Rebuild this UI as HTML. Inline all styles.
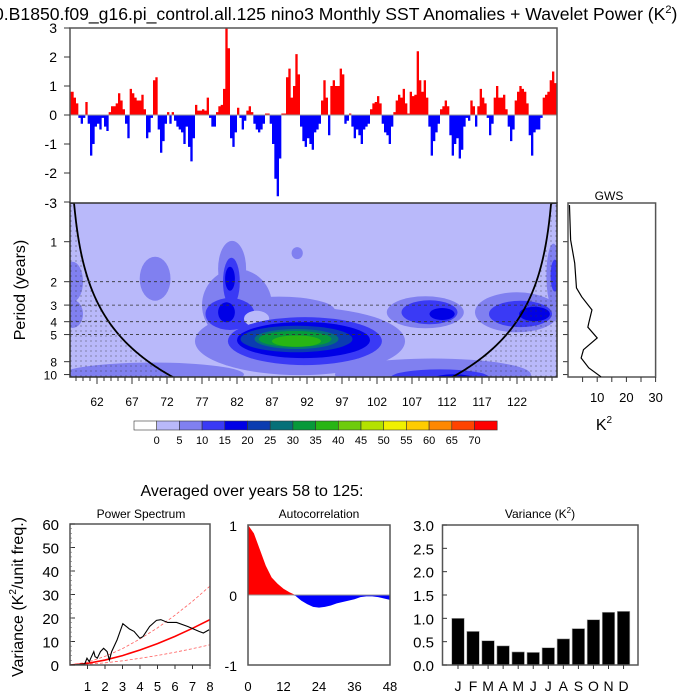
<!DOCTYPE html>
<html><head><meta charset="utf-8">
<style>
html,body{margin:0;padding:0;background:#fff;}
svg{display:block;font-family:"Liberation Sans",sans-serif;}
</style></head>
<body>
<svg id="c" width="700" height="700" viewBox="0 0 700 700" xmlns="http://www.w3.org/2000/svg">
<defs>
<clipPath id="wclip"><rect x="70" y="203" width="487" height="174"/></clipPath>
<clipPath id="tclip"><rect x="70" y="28" width="487" height="175"/></clipPath>
<clipPath id="pclip"><rect x="70" y="524" width="140" height="141"/></clipPath>
<pattern id="dots" width="5" height="5" patternUnits="userSpaceOnUse"><circle cx="1" cy="1" r="0.55" fill="#333"/></pattern>
</defs>
<text x="-6" y="20" font-size="17.6">0.B1850.f09_g16.pi_control.all.125 nino3 Monthly SST Anomalies + Wavelet Power (K<tspan font-size="11" dy="-7">2</tspan><tspan dy="7">)</tspan></text>
<g id="topPanel"></g>
<g id="wav"></g>
<g id="gws"></g>
<g id="cbar"></g>
<text x="252" y="496" font-size="16" text-anchor="middle">Averaged over years 58 to 125:</text>
<g id="ps"></g>
<g id="ac"></g>
<g id="vr"></g>
</svg>
<script>
// ---------- data ----------
const sstStartYear = 58;
const sstStep = 1/3;
const sstValues = [0.8,0.8,0.6,0.4,-0.1,-0.3,-0.1,0.45,-0.3,-1.4,-1.0,-0.4,-0.3,-0.5,-0.1,-0.4,-0.55,0.1,0.3,0.3,0.4,0.75,0.5,0.2,-0.3,-0.8,0.9,0.75,0.6,0.5,0.5,0.7,0.2,-0.8,-0.6,-0.1,1.2,1.3,-0.5,-1.3,-0.9,-0.3,0.1,-0.3,0.1,-0.2,-0.4,-0.5,-0.6,-1.0,-0.4,-1.1,-1.6,-0.8,0.35,0.15,0.15,0.2,0.15,0.6,-0.1,-0.4,-0.4,0.1,0.3,0.35,0.9,3.0,2.3,-0.8,-1.1,-0.6,0.25,-0.1,-0.5,-0.2,0.15,0.3,0.1,-0.3,-0.5,-0.6,-0.5,-0.3,0.05,0.05,-0.3,-1.0,-2.2,-2.8,-1.5,0.05,0.05,1.3,1.6,0.6,1.0,2.1,1.4,-0.4,-0.9,-1.1,-0.8,-1.0,-1.2,-0.6,
-0.5,-0.3,0.5,1.2,0.6,-0.7,1.0,1.2,1.0,1.0,1.6,1.4,-0.3,-0.2,0.05,-0.4,-0.8,-0.5,-0.7,-1.0,-0.5,-0.4,-0.3,0.2,0.4,0.45,0.65,0.4,-0.3,-0.6,-0.7,-1.0,-0.4,0.1,0.5,0.7,0.6,0.9,0.4,0.05,0.8,0.65,0.7,2.2,1.2,0.8,1.2,0.6,-0.4,-1.4,-0.9,-0.6,-0.3,0.2,0.3,0.5,0.3,-0.7,-1.4,-1.0,-0.8,-1.5,-1.2,-0.4,-0.1,-0.2,0.5,0.3,-0.4,0.3,0.9,0.6,0.4,-0.1,-0.7,-0.3,0.6,1.0,0.6,0.6,0.7,0.2,-0.4,-0.9,-0.5,0.5,0.8,1.0,0.9,0.8,0.4,-0.7,-1.4,-0.6,-0.5,-0.5,-0.1,0.6,0.7,0.8,1.2,1.5,1.1,-0.8,-2.2];
const sstTicks = [3,2,1,0,-1,-2,-3];
const periodTicks = [1,2,3,4,5,8,10];
const dashedPeriods = [2,3,4,5];
const yearTicks = [62,67,72,77,82,87,92,97,102,107,112,117,122];
const blobYear   = [70,110,58.5,58.5,70.3,82,81.3,88,91,81,81.2,80.5,81,84.8,91.7,91.5,90.5,90.5,90.3,90.5,90.6,108.9,109.5,111.3,122,122.5,124.5,127.2,127.4,111,113];
const blobPeriod = [10,10,2,3.5,1.9,3,1.6,3.3,5.6,3.5,2,3.4,1.9,3.8,5.6,5.5,5.4,5.4,5.4,5.6,1.22,3.4,3.4,3.5,3.4,3.5,3.5,1.8,1.8,10.5,10.8];
const blobW      = [13,14,1.5,1.5,2.2,5,2,8,15,3.5,1.2,1.2,0.7,1.8,11,9.5,8,6,5.2,3.5,0.8,5.5,4,1.8,6,4.5,2.2,1,0.6,7,3];
const blobH      = [0.3,0.4,0.5,0.35,0.55,0.9,0.7,0.35,0.85,0.4,0.6,0.25,0.3,0.2,0.6,0.45,0.33,0.25,0.2,0.14,0.15,0.4,0.3,0.15,0.5,0.33,0.18,0.8,0.4,0.2,0.12];
const blobLevel  = [2,2,2,2,2,2,2,2,2,3,3,4,4,1,3,4,5,6,7,8,2,2,3,4,2,3,4,2,3,3,4];
const levelLabels = [0,5,10,15,20,25,30,35,40,45,50,55,60,65,70];
const levelColors = ["#ffffff","#b9b9fa","#8080f0","#3a3af5","#0000e6","#0b3cb0","#067078","#07993a","#28b514","#6ecc0c","#b4e200","#f0f000","#ffcc00","#ff8800","#ff4400","#ff0000"];
const gwsPeriods = [0.53,0.97,1.45,2.23,2.6,3.26,4.1,4.4,5.3,6.5,7.5,8.9,10.4];
const gwsValues  = [0.5,0.9,2.3,2.9,4.7,8.2,7.1,6.8,10.0,5.3,4.5,7.1,11.3];
const gwsTicks = [10,20,30];
const psFreq  = [0,0.84,0.97,1.10,1.23,1.36,1.43,1.56,1.74,1.92,2.12,2.25,2.38,2.69,3.02,3.40,3.66,3.99,4.17,4.55,4.94,5.19,5.58,6.09,6.73,7.37,7.62,7.95];
const psPower = [0,0.4,2.9,1.4,3.6,5.7,3.6,2.9,5.7,7.1,5.7,2.1,5.7,10.7,17.6,15.3,14.3,11.4,12.1,16.4,19,19.3,18.1,18.1,16.4,14.3,13.6,15];
const redFreq = [0,1,2,3,4,5,6,7,8];
const redMean = [0,0.69,2.1,4.0,6.4,9.1,12.2,15.6,19.3];
const redUpper = [0,1.2,3.65,6.96,11.1,15.8,21.2,27.1,33.6];
const redLower = [0,0.31,0.93,1.78,2.85,4.05,5.43,6.94,8.6];
const psXTicks = [1,2,3,4,5,6,7,8];
const psYTicks = [0,10,20,30,40,50,60];
const acLags = [0,2,4,6,8,10,12,14,16,18,20,22,24,26,28,30,32,34,36,38,40,42,44,46,48];
const acValues = [1,0.88,0.65,0.42,0.25,0.16,0.09,0.04,-0.01,-0.08,-0.13,-0.17,-0.18,-0.17,-0.15,-0.12,-0.1,-0.08,-0.06,-0.03,-0.02,-0.02,-0.03,-0.05,-0.07];
const acXTicks = [0,12,24,36,48];
const acYTicks = [1,0,-1];
const months = ["J","F","M","A","M","J","J","A","S","O","N","D"];
const monthVar = [1.0,0.72,0.52,0.41,0.28,0.27,0.37,0.56,0.78,0.97,1.13,1.15];
const varYTicks = ["3.0","2.5","2.0","1.5","1.0","0.5","0.0"];

// ---------- helpers ----------
const NS = "http://www.w3.org/2000/svg";
function mk(tag, attrs, parent){ const el=document.createElementNS(NS,tag); for(const k in attrs) el.setAttribute(k,attrs[k]); parent.appendChild(el); return el; }
function txt(parent,x,y,s,size,anchor){ const t=mk("text",{x:x,y:y,"font-size":size,"text-anchor":anchor||"middle"},parent); t.textContent=s; return t; }
const xYear = y => 69 + (y-58)*7;
const ySst = v => 115 - v*29;
const yPer = p => 241.7 + 57.7*Math.log(p);

// ---------- top panel ----------
const topG = document.getElementById("topPanel");
let posD="M"+xYear(sstStartYear)+" 115", negD="M"+xYear(sstStartYear)+" 115";
sstValues.forEach((v,i)=>{
  const x0=xYear(sstStartYear+i*sstStep), x1=xYear(sstStartYear+(i+1)*sstStep);
  const pv=Math.max(v,0), nv=Math.min(v,0);
  posD+=" L"+x0+" "+ySst(pv)+" L"+x1+" "+ySst(pv);
  negD+=" L"+x0+" "+ySst(nv)+" L"+x1+" "+ySst(nv);
});
const endX = xYear(sstStartYear+sstValues.length*sstStep);
posD+=" L"+endX+" 115 Z"; negD+=" L"+endX+" 115 Z";
const gT = mk("g",{"clip-path":"url(#tclip)"},topG);
let e = mk("path",{d:posD,fill:"#ff0000",stroke:"none"},gT);


e = mk("path",{d:negD,fill:"#0000ff",stroke:"none"},gT);


mk("line",{x1:70,x2:557,y1:115,y2:115,stroke:"#999","stroke-width":1},topG);
mk("path",{d:"M70 203 V28 H557 V203",fill:"none",stroke:"#555","stroke-width":1.5},topG);
sstTicks.forEach(v=>{
  mk("line",{x1:64,x2:70,y1:ySst(v),y2:ySst(v),stroke:"#333"},topG);
  if(v===-3) return;
  const t=txt(topG,57,ySst(v)+5,String(v),14,"end");
  
  
});

// ---------- wavelet panel ----------
const wav = document.getElementById("wav");
const gW = mk("g",{"clip-path":"url(#wclip)"},wav);
mk("rect",{x:70,y:203,width:487,height:174,fill:levelColors[1]},gW);
blobYear.forEach((yr,i)=>{
  const el=mk("ellipse",{cx:xYear(yr),cy:yPer(blobPeriod[i]),rx:blobW[i]*7,ry:blobH[i]*40,fill:levelColors[blobLevel[i]]},gW);
  
  
});
const coi = yr => Math.min(yr-58, 127.6-yr)/1.42;
let lp="M70 203", rp="M557 203", lc="", rc="";
for(let x=70;x<=313;x+=1){ const yr=58+(x-69)/7; const p=Math.max(coi(yr),0.3); const y=Math.min(Math.max(yPer(p),203),377); lp+=" L"+x+" "+y; lc+=(lc?" L":"M")+x+" "+y; if(y>=377) break; }
lp+=" L70 377 Z";
for(let x=557;x>=313;x-=1){ const yr=58+(x-69)/7; const p=Math.max(coi(yr),0.3); const y=Math.min(Math.max(yPer(p),203),377); rp+=" L"+x+" "+y; rc+=(rc?" L":"M")+x+" "+y; if(y>=377) break; }
rp+=" L557 377 Z";
mk("path",{d:lp,fill:"url(#dots)"},gW);
mk("path",{d:rp,fill:"url(#dots)"},gW);
e=mk("path",{d:lc,fill:"none",stroke:"#000","stroke-width":1.8},gW);


e=mk("path",{d:rc,fill:"none",stroke:"#000","stroke-width":1.8},gW);


dashedPeriods.forEach(p=>{
  mk("line",{x1:70,x2:557,y1:yPer(p),y2:yPer(p),stroke:"#333","stroke-dasharray":"3,3","stroke-width":0.8},gW);
});
mk("rect",{x:70,y:203,width:487,height:174,fill:"none",stroke:"#333","stroke-width":1.5},wav);
txt(wav,57,208,"-3",14,"end");
periodTicks.forEach(p=>{
  mk("line",{x1:64,x2:70,y1:yPer(p),y2:yPer(p),stroke:"#333"},wav);
  mk("line",{x1:563,x2:568,y1:yPer(p),y2:yPer(p),stroke:"#333"},wav);
  const t=txt(wav,57,yPer(p)+5,String(p),12,"end");
  
  
});
for(let yr=59;yr<=127;yr++){ mk("line",{x1:xYear(yr),x2:xYear(yr),y1:377,y2:yearTicks.includes(yr)?384:381,stroke:"#333"},wav); }
yearTicks.forEach(yr=>{
  const t=txt(wav,xYear(yr),406,String(yr),12);
  
  
});
e=txt(wav,0,0,"Period (years)",16);
e.setAttribute("transform","translate(25 290) rotate(-90)");



// ---------- GWS ----------
const gws = document.getElementById("gws");
const xG = v => 568 + v*2.92;
mk("rect",{x:568,y:203,width:87.6,height:174,fill:"#fff",stroke:"#555","stroke-width":1.5},gws);
let gd="";
gwsPeriods.forEach((p,i)=>{ gd+=(i?" L":"M")+xG(gwsValues[i])+" "+yPer(p); });
e=mk("path",{d:gd,fill:"none",stroke:"#000","stroke-width":1.2},gws);


for(let v=5;v<=30;v+=5) mk("line",{x1:xG(v),x2:xG(v),y1:377,y2:382,stroke:"#333"},gws);
gwsTicks.forEach(v=>{
  const t=txt(gws,xG(v),402,String(v),13);
  
  
});
txt(gws,609,200,"GWS",12);
e=txt(gws,604,430,"K",16); mk("tspan",{"font-size":10,dy:-7},e).textContent="2";



// ---------- colorbar ----------
const cb = document.getElementById("cbar");
const cw = 22.7;
levelColors.forEach((c,i)=>{
  const r=mk("rect",{x:134+i*cw,y:421,width:cw,height:9,fill:c,stroke:"#333","stroke-width":0.6},cb);
  
  
});
levelLabels.forEach((v,i)=>{
  const t=txt(cb,134+(i+1)*cw,444,String(v),11);
  
  
});

// ---------- power spectrum ----------
const ps = document.getElementById("ps");
const xP = f => 70 + f*17.5, yP = v => 665 - v*2.35;
const gP = mk("g",{"clip-path":"url(#pclip)"},ps);
function linePath(xs,ys,fx,fy){ return xs.map((x,i)=>(i?"L":"M")+fx(x)+" "+fy(ys[i])).join(" "); }
e=mk("path",{d:linePath(redFreq,redUpper,xP,yP),fill:"none",stroke:"#ff6060","stroke-width":0.8,"stroke-dasharray":"3,2"},gP);


e=mk("path",{d:linePath(redFreq,redLower,xP,yP),fill:"none",stroke:"#ff6060","stroke-width":0.8,"stroke-dasharray":"3,2"},gP);


e=mk("path",{d:linePath(redFreq,redMean,xP,yP),fill:"none",stroke:"#ff0000","stroke-width":1.6},gP);


e=mk("path",{d:linePath(psFreq,psPower,xP,yP),fill:"none",stroke:"#000","stroke-width":1.1},gP);


mk("rect",{x:70,y:524,width:140,height:141,fill:"none",stroke:"#555","stroke-width":1.5},ps);
psYTicks.forEach(v=>{
  mk("line",{x1:70,x2:75,y1:yP(v),y2:yP(v),stroke:"#333"},ps);
  const t=txt(ps,59,yP(v)+6,String(v),15,"end");
  
  
});
for(let v=2;v<60;v+=2) mk("line",{x1:70,x2:72,y1:yP(v),y2:yP(v),stroke:"#666","stroke-width":0.6},ps);
psXTicks.forEach(f=>{
  mk("line",{x1:xP(f),x2:xP(f),y1:665,y2:669,stroke:"#333"},ps);
  const t=txt(ps,xP(f),691,String(f),13);
  
  
});
txt(ps,141,518,"Power Spectrum",12);
e=txt(ps,0,0,"Variance (K",16); mk("tspan",{"font-size":10,dy:-7},e).textContent="2"; mk("tspan",{dy:7},e).textContent="/unit freq.)";
e.setAttribute("transform","translate(23 597) rotate(-90)");



// ---------- autocorrelation ----------
const ac = document.getElementById("ac");
const xA = l => 248 + l*(142/48), yA = v => 595 - v*70;
let apos="M"+xA(acLags[0])+" 595", aneg="M"+xA(acLags[0])+" 595";
acLags.forEach((l,i)=>{ apos+=" L"+xA(l)+" "+yA(Math.max(acValues[i],0)); aneg+=" L"+xA(l)+" "+yA(Math.min(acValues[i],0)); });
apos+=" L"+xA(acLags[acLags.length-1])+" 595 Z"; aneg+=" L"+xA(acLags[acLags.length-1])+" 595 Z";
e=mk("path",{d:apos,fill:"#ff0000"},ac);


e=mk("path",{d:aneg,fill:"#0000ff"},ac);


mk("line",{x1:248,x2:390,y1:595,y2:595,stroke:"#999"},ac);
mk("rect",{x:248,y:525,width:142,height:140,fill:"none",stroke:"#555","stroke-width":1.5},ac);
acYTicks.forEach(v=>{
  const t=txt(ac,237,yA(v)+6,String(v),14,"end");
  
  
});
acXTicks.forEach(l=>{
  const t=txt(ac,xA(l),691,String(l),13);
  
  
});
txt(ac,319,518,"Autocorrelation",12);

// ---------- variance ----------
const vr = document.getElementById("vr");
const xV = i => 458 + i*15.05, yV = v => 665 - v*(140/3);
monthVar.forEach((v,i)=>{
  const b=mk("rect",{x:xV(i)-6.25,y:yV(v),width:12.5,height:665-yV(v),fill:"#000",stroke:"#aaa","stroke-width":0.6},vr);
  
  
});
mk("rect",{x:442.5,y:525,width:195.5,height:140,fill:"none",stroke:"#555","stroke-width":1.5},vr);
varYTicks.forEach(s=>{
  const v=parseFloat(s);
  mk("line",{x1:442.5,x2:447,y1:yV(v),y2:yV(v),stroke:"#333"},vr);
  const t=txt(vr,434,yV(v)+6,s,15,"end");
  
  
});
months.forEach((m,i)=>{
  mk("line",{x1:xV(i),x2:xV(i),y1:665,y2:669,stroke:"#333"},vr);
  const t=txt(vr,xV(i),691,m,14);
  
  
});
e=txt(vr,540,518,"Variance (K",12); mk("tspan",{"font-size":8,dy:-5},e).textContent="2"; mk("tspan",{dy:5},e).textContent=")";
</script>
</body></html>
